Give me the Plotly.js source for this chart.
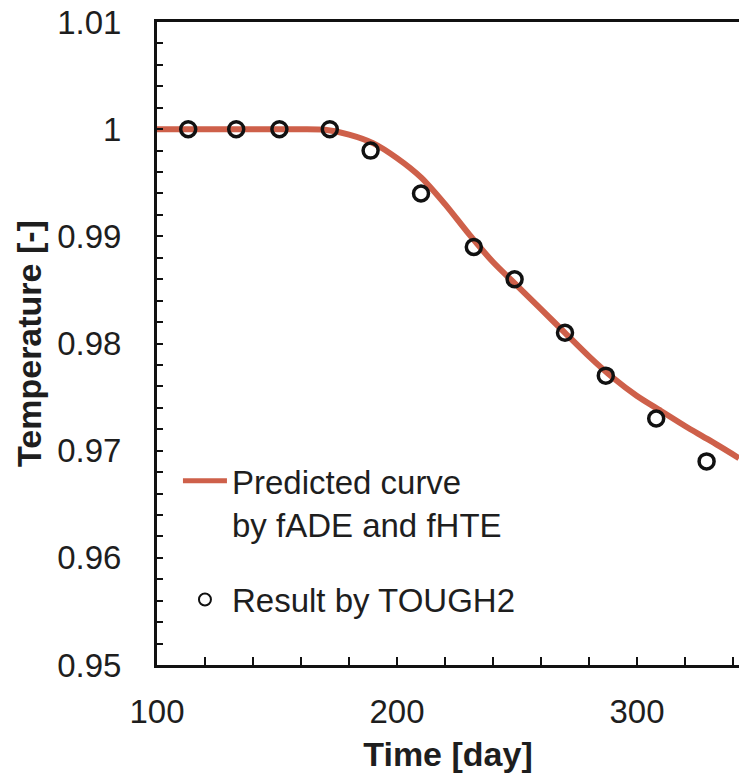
<!DOCTYPE html>
<html><head><meta charset="utf-8">
<script src="https://cdn.plot.ly/plotly-3.0.1.min.js"></script>
<style>html,body{margin:0;padding:0;background:#fff}#chart{width:739px;height:778px}</style>
</head><body><div id="chart"></div>
<script>
// Predicted curve (fADE and fHTE)
const curveTime = [100,110,120,130,140,150,160,170,180,190,200,210,220,230,240,250,260,270,280,290,300,310,320,330,342.5];
const curveTemp = [1.0,1.0,1.0,1.0,1.0,1.0,1.0,0.99995,0.9995,0.9987,0.9973,0.9955,0.9930,0.9902,0.9876,0.9854,0.9832,0.9810,0.9788,0.9768,0.9751,0.9737,0.9723,0.9710,0.9693];
// Result by TOUGH2
const toughTime = [113,133,151,172,189,210,232,249,270,287,308,329];
const toughTemp = [1.0,1.0,1.0,1.0,0.998,0.994,0.989,0.986,0.981,0.977,0.973,0.969];
// tick labels
const xTickVals = [100,200,300];
const xTickText = ['100','200','300'];
const yTickVals = [0.95,0.96,0.97,0.98,0.99,1.0,1.01];
const yTickText = ['0.95','0.96','0.97','0.98','0.99','1','1.01'];

const FONT = 'Arial, "Liberation Sans", sans-serif';
const TXT = '#1e1e1e';

const traces = [
  {x: curveTime, y: curveTemp, type:'scatter', mode:'lines', name:'Predicted curve<br>by fADE and fHTE',
   line:{color:'rgb(206,96,74)', width:6, shape:'spline', smoothing:0.8}, legendgroup:'a'},
  {x: toughTime, y: toughTemp, type:'scatter', mode:'markers', name:'Result by TOUGH2',
   marker:{symbol:'circle-open', size:15, color:'#111', line:{width:3.5, color:'#111'}}, legendgroup:'b'}
];

const layout = {
  width:739, height:778,
  margin:{l:157, r:0, t:22, b:113},
  paper_bgcolor:'#fff', plot_bgcolor:'#fff',
  font:{family:FONT, size:33, color:TXT},
  showlegend:true,
  legend:{x:0.036, y:0.33, xanchor:'left', yanchor:'top', bgcolor:'rgba(0,0,0,0)',
    font:{family:FONT, size:33, color:TXT}, valign:'top', itemwidth:44, tracegroupgap:30, itemsizing:'constant'},
  xaxis:{range:[100,342.5], tickmode:'array', tickvals:xTickVals, ticktext:xTickText,
    ticks:'inside', ticklen:8, tickwidth:2, tickcolor:'#111',
    minor:{tickmode:'linear', tick0:100, dtick:20, ticks:'inside', ticklen:8, tickwidth:2, tickcolor:'#111', showgrid:false},
    showline:true, linecolor:'#111', linewidth:3, mirror:true, showgrid:false, zeroline:false,
    ticklabelstandoff:15, tickfont:{family:FONT, size:33, color:TXT},
    title:{text:'<b>Time [day]</b>', font:{family:FONT, size:34, color:TXT}, standoff:14}},
  yaxis:{range:[0.95,1.01], tickmode:'array', tickvals:yTickVals, ticktext:yTickText,
    ticks:'inside', ticklen:6, tickwidth:2, tickcolor:'#111',
    minor:{tickmode:'linear', tick0:0.95, dtick:0.002, ticks:'inside', ticklen:6, tickwidth:2, tickcolor:'#111', showgrid:false},
    showline:true, linecolor:'#111', linewidth:3, mirror:false, showgrid:false, zeroline:false,
    ticklabelstandoff:26, tickfont:{family:FONT, size:33, color:TXT},
    title:{text:'<b>Temperature [-]</b>', font:{family:FONT, size:34, color:TXT}, standoff:6}}
};

Plotly.newPlot('chart', traces, layout, {displayModeBar:false, staticPlot:true});
</script></body></html>
